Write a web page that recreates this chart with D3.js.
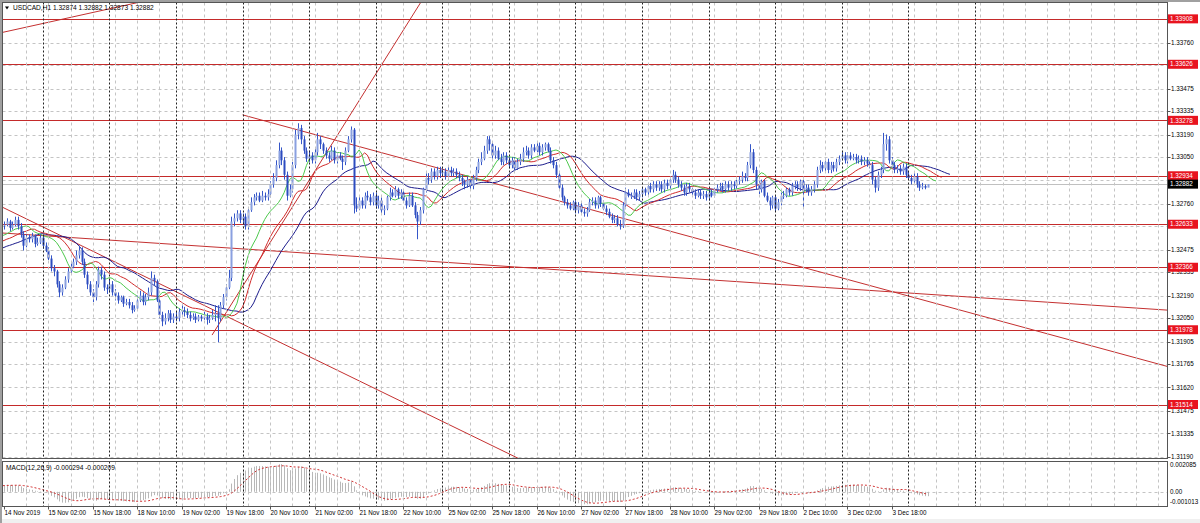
<!DOCTYPE html>
<html><head><meta charset="utf-8">
<script src="https://cdn.jsdelivr.net/npm/d3@7"></script>
<style>
html,body{margin:0;padding:0;background:#f0f0f0;}
svg{display:block;font-family:"Liberation Sans",Arial,sans-serif;}
</style></head><body><svg id="c" width="1200" height="523"></svg>
<script>
// ---- DATA (USDCAD H1) ----
// hidden history before the first visible bar (needed for indicators)
const preCloses=[1.3238,1.3240,1.3237,1.3241,1.3244,1.3242,1.3245,1.3247,1.3244,1.3246,1.3249,1.3247,1.3250,1.3248,1.3251,1.3253,1.3250,1.3252,1.3255,1.3253,1.3256,1.3254,1.3257,1.3259,1.3256,1.3258,1.3260,1.3258,1.3261,1.3263];
const preHighs=[1.3241,1.3243,1.3241,1.3243,1.3246,1.3245,1.3247,1.3249,1.3247,1.3248,1.3251,1.3250,1.3252,1.3251,1.3253,1.3255,1.3253,1.3254,1.3257,1.3256,1.3258,1.3257,1.3259,1.3261,1.3259,1.3260,1.3262,1.3261,1.3263,1.3265];
const preLows=[1.3235,1.3237,1.3235,1.3237,1.3240,1.3240,1.3241,1.3244,1.3242,1.3243,1.3245,1.3245,1.3247,1.3246,1.3248,1.3250,1.3248,1.3249,1.3251,1.3251,1.3253,1.3252,1.3254,1.3256,1.3254,1.3255,1.3257,1.3256,1.3258,1.3260];
// visible bars, first = 14 Nov 2019 10:00
const closes=[
1.3263,1.3265,1.3261,1.3263,1.3266,1.3262,1.3257,1.3250,1.3255,1.3254,
1.3256,1.3251,1.3252,1.3255,1.3250,1.3247,1.3242,1.3236,1.3234,1.3226,
1.3221,1.3224,1.3229,1.3234,1.3237,1.3240,1.3244,1.3247,1.3240,1.3232,
1.3226,1.3221,1.3218,1.3226,1.3235,1.3232,1.3224,1.3223,1.3226,1.3221,
1.3219,1.3216,1.3218,1.3214,1.3215,1.3213,1.3210,1.3211,1.3216,1.3219,
1.3215,1.3218,1.3221,1.3230,1.3228,1.3216,1.3207,1.3203,1.3205,1.3208,
1.3204,1.3206,1.3205,1.3209,1.3210,1.3209,1.3207,1.3205,1.3206,1.3204,
1.3206,1.3205,1.3206,1.3204,1.3205,1.3207,1.3208,1.3205,1.3213,1.3218,
1.3224,1.3230,1.3265,1.3267,1.3270,1.3266,1.3268,1.3262,1.3272,1.3277,
1.3280,1.3281,1.3278,1.3281,1.3280,1.3282,1.3288,1.3292,1.3300,1.3309,
1.3303,1.3294,1.3281,1.3285,1.3300,1.3319,1.3323,1.3316,1.3309,1.3304,
1.3306,1.3303,1.3308,1.3316,1.3313,1.3309,1.3306,1.3304,1.3309,1.3303,
1.3306,1.3304,1.3302,1.3309,1.3316,1.3322,1.3275,1.3273,1.3278,1.3275,
1.3281,1.3280,1.3277,1.3281,1.3275,1.3278,1.3272,1.3273,1.3280,1.3283,
1.3281,1.3285,1.3281,1.3283,1.3278,1.3275,1.3281,1.3275,1.3269,1.3265,
1.3272,1.3285,1.3292,1.3291,1.3296,1.3293,1.3297,1.3295,1.3296,1.3293,
1.3297,1.3295,1.3296,1.3294,1.3292,1.3290,1.3288,1.3291,1.3287,1.3292,
1.3297,1.3302,1.3304,1.3309,1.3316,1.3313,1.3306,1.3309,1.3304,1.3302,
1.3306,1.3303,1.3300,1.3303,1.3298,1.3302,1.3304,1.3308,1.3309,1.3306,
1.3311,1.3309,1.3312,1.3308,1.3311,1.3313,1.3309,1.3303,1.3300,1.3294,
1.3286,1.3280,1.3277,1.3275,1.3273,1.3277,1.3272,1.3275,1.3271,1.3270,
1.3272,1.3277,1.3278,1.3275,1.3280,1.3276,1.3273,1.3271,1.3268,1.3266,
1.3267,1.3263,1.3262,1.3275,1.3283,1.3281,1.3281,1.3283,1.3280,1.3282,
1.3285,1.3283,1.3287,1.3285,1.3288,1.3286,1.3288,1.3285,1.3289,1.3287,
1.3291,1.3294,1.3291,1.3288,1.3286,1.3283,1.3287,1.3285,1.3283,1.3281,
1.3283,1.3281,1.3282,1.3280,1.3283,1.3281,1.3285,1.3286,1.3287,1.3285,
1.3288,1.3286,1.3288,1.3287,1.3290,1.3291,1.3293,1.3292,1.3300,1.3308,
1.3297,1.3288,1.3285,1.3290,1.3281,1.3278,1.3275,1.3280,1.3273,1.3277,
1.3281,1.3281,1.3285,1.3283,1.3287,1.3288,1.3286,1.3290,1.3285,1.3286,
1.3283,1.3285,1.3288,1.3297,1.3300,1.3298,1.3302,1.3297,1.3300,1.3298,
1.3302,1.3304,1.3306,1.3303,1.3306,1.3304,1.3305,1.3303,1.3304,1.3302,
1.3303,1.3301,1.3300,1.3291,1.3286,1.3294,1.3297,1.3313,1.3316,1.3303,
1.3300,1.3297,1.3298,1.3296,1.3299,1.3294,1.3292,1.3290,1.3293,1.3288,
1.3286,1.3287,1.3286,1.32882];
const highs=[
1.3265,1.3267,1.3266,1.3265,1.3268,1.3268,1.3264,1.3259,1.3257,1.3257,
1.3258,1.3257,1.3255,1.3257,1.3256,1.3252,1.3249,1.3244,1.3238,1.3235,
1.3228,1.3226,1.3231,1.3236,1.3239,1.3242,1.3247,1.3250,1.3249,1.3242,
1.3234,1.3228,1.3223,1.3228,1.3237,1.3237,1.3234,1.3226,1.3229,1.3228,
1.3223,1.3221,1.3219,1.3219,1.3217,1.3217,1.3215,1.3213,1.3219,1.3222,
1.3221,1.3220,1.3224,1.3234,1.3232,1.3229,1.3218,1.3209,1.3208,1.3210,
1.3210,1.3208,1.3209,1.3211,1.3213,1.3212,1.3211,1.3209,1.3208,1.3208,
1.3207,1.3207,1.3209,1.3208,1.3207,1.3210,1.3213,1.3213,1.3215,1.3220,
1.3226,1.3235,1.3268,1.3270,1.3272,1.3272,1.3270,1.3270,1.3274,1.3280,
1.3282,1.3283,1.3283,1.3284,1.3283,1.3285,1.3290,1.3295,1.3303,1.3314,
1.3311,1.3305,1.3296,1.3288,1.3302,1.3322,1.3326,1.3325,1.3318,1.3311,
1.3309,1.3308,1.3311,1.3320,1.3318,1.3314,1.3311,1.3308,1.3312,1.3311,
1.3308,1.3308,1.3306,1.3311,1.3318,1.3324,1.3323,1.3280,1.3281,1.3280,
1.3283,1.3284,1.3282,1.3283,1.3283,1.3281,1.3280,1.3275,1.3281,1.3286,
1.3285,1.3287,1.3286,1.3285,1.3285,1.3280,1.3283,1.3283,1.3277,1.3271,
1.3274,1.3286,1.3295,1.3295,1.3298,1.3298,1.3299,1.3299,1.3298,1.3298,
1.3299,1.3299,1.3298,1.3298,1.3296,1.3294,1.3291,1.3293,1.3293,1.3294,
1.3299,1.3304,1.3308,1.3312,1.3318,1.3318,1.3314,1.3312,1.3311,1.3307,
1.3308,1.3308,1.3305,1.3305,1.3305,1.3304,1.3307,1.3311,1.3312,1.3311,
1.3313,1.3313,1.3314,1.3314,1.3313,1.3314,1.3314,1.3311,1.3305,1.3302,
1.3296,1.3288,1.3281,1.3279,1.3277,1.3278,1.3278,1.3277,1.3277,1.3273,
1.3274,1.3279,1.3280,1.3280,1.3281,1.3281,1.3278,1.3275,1.3273,1.3270,
1.3269,1.3269,1.3266,1.3277,1.3286,1.3285,1.3283,1.3285,1.3285,1.3284,
1.3286,1.3286,1.3289,1.3289,1.3290,1.3290,1.3290,1.3290,1.3291,1.3291,
1.3293,1.3297,1.3296,1.3293,1.3290,1.3288,1.3289,1.3289,1.3286,1.3285,
1.3285,1.3285,1.3284,1.3284,1.3285,1.3285,1.3286,1.3288,1.3289,1.3289,
1.3290,1.3290,1.3290,1.3290,1.3291,1.3293,1.3296,1.3295,1.3302,1.3313,
1.3310,1.3299,1.3290,1.3291,1.3291,1.3283,1.3280,1.3281,1.3281,1.3279,
1.3283,1.3284,1.3286,1.3286,1.3289,1.3290,1.3290,1.3291,1.3291,1.3288,
1.3288,1.3287,1.3290,1.3299,1.3303,1.3302,1.3304,1.3304,1.3302,1.3302,
1.3304,1.3306,1.3308,1.3308,1.3308,1.3308,1.3307,1.3307,1.3306,1.3306,
1.3305,1.3305,1.3303,1.3302,1.3293,1.3296,1.3299,1.3320,1.3319,1.3318,
1.3305,1.3302,1.3300,1.3300,1.3301,1.3301,1.3296,1.3294,1.3295,1.3295,
1.3290,1.3289,1.3288,1.32882];
const lows=[
1.3260,1.3262,1.3259,1.3260,1.3262,1.3260,1.3255,1.3247,1.3249,1.3252,
1.3252,1.3249,1.3250,1.3251,1.3248,1.3246,1.3241,1.3234,1.3231,1.3224,
1.3218,1.3219,1.3223,1.3227,1.3232,1.3236,1.3238,1.3242,1.3238,1.3230,
1.3223,1.3219,1.3215,1.3216,1.3224,1.3229,1.3222,1.3220,1.3221,1.3219,
1.3216,1.3214,1.3215,1.3212,1.3213,1.3211,1.3208,1.3209,1.3210,1.3215,
1.3213,1.3213,1.3216,1.3219,1.3225,1.3215,1.3205,1.3200,1.3201,1.3203,
1.3202,1.3202,1.3203,1.3203,1.3207,1.3206,1.3205,1.3203,1.3204,1.3202,
1.3203,1.3203,1.3204,1.3201,1.3202,1.3204,1.3203,1.3190,1.3203,1.3211,
1.3216,1.3223,1.3228,1.3262,1.3265,1.3264,1.3263,1.3260,1.3260,1.3271,
1.3275,1.3278,1.3277,1.3277,1.3278,1.3278,1.3280,1.3286,1.3290,1.3298,
1.3300,1.3291,1.3278,1.3280,1.3283,1.3298,1.3316,1.3313,1.3307,1.3302,
1.3302,1.3301,1.3301,1.3306,1.3310,1.3307,1.3304,1.3302,1.3303,1.3301,
1.3301,1.3303,1.3297,1.3300,1.3308,1.3314,1.3270,1.3271,1.3272,1.3273,
1.3273,1.3278,1.3275,1.3275,1.3273,1.3273,1.3270,1.3269,1.3272,1.3278,
1.3280,1.3280,1.3279,1.3279,1.3277,1.3273,1.3274,1.3274,1.3267,1.3254,
1.3263,1.3270,1.3283,1.3288,1.3289,1.3291,1.3291,1.3292,1.3293,1.3291,
1.3291,1.3293,1.3293,1.3292,1.3290,1.3287,1.3285,1.3286,1.3285,1.3285,
1.3290,1.3295,1.3300,1.3303,1.3307,1.3309,1.3304,1.3304,1.3303,1.3300,
1.3300,1.3301,1.3298,1.3298,1.3296,1.3297,1.3300,1.3302,1.3306,1.3304,
1.3304,1.3308,1.3308,1.3306,1.3306,1.3309,1.3308,1.3301,1.3298,1.3292,
1.3284,1.3278,1.3275,1.3273,1.3272,1.3272,1.3270,1.3270,1.3269,1.3268,
1.3268,1.3271,1.3275,1.3273,1.3273,1.3274,1.3272,1.3269,1.3267,1.3264,
1.3264,1.3262,1.3260,1.3261,1.3273,1.3280,1.3279,1.3279,1.3278,1.3278,
1.3280,1.3281,1.3281,1.3283,1.3283,1.3284,1.3284,1.3283,1.3283,1.3285,
1.3285,1.3289,1.3289,1.3286,1.3284,1.3281,1.3281,1.3283,1.3281,1.3279,
1.3280,1.3279,1.3279,1.3278,1.3278,1.3280,1.3280,1.3283,1.3284,1.3283,
1.3283,1.3284,1.3284,1.3285,1.3285,1.3288,1.3289,1.3290,1.3290,1.3298,
1.3295,1.3285,1.3282,1.3283,1.3280,1.3277,1.3272,1.3273,1.3271,1.3272,
1.3275,1.3279,1.3280,1.3281,1.3281,1.3285,1.3284,1.3284,1.3274,1.3283,
1.3281,1.3281,1.3283,1.3286,1.3295,1.3296,1.3296,1.3295,1.3295,1.3296,
1.3296,1.3300,1.3303,1.3301,1.3301,1.3303,1.3303,1.3301,1.3301,1.3300,
1.3300,1.3299,1.3298,1.3288,1.3283,1.3284,1.3292,1.3295,1.3309,1.3301,
1.3298,1.3295,1.3295,1.3294,1.3294,1.3292,1.3291,1.3288,1.3288,1.3286,
1.3284,1.3285,1.3285,1.32873];
const timeLabels=["14 Nov 2019","15 Nov 02:00","15 Nov 18:00","18 Nov 10:00","19 Nov 02:00","19 Nov 18:00","20 Nov 10:00","21 Nov 02:00","21 Nov 18:00","22 Nov 10:00","25 Nov 02:00","25 Nov 18:00","26 Nov 10:00","27 Nov 02:00","27 Nov 18:00","28 Nov 10:00","29 Nov 02:00","29 Nov 18:00","2 Dec 10:00","3 Dec 02:00","3 Dec 18:00"];
const priceTicks=[1.33905,1.33760,1.33620,1.33475,1.33335,1.33190,1.33050,1.32905,1.32760,1.32620,1.32475,1.32335,1.32190,1.32050,1.31905,1.31765,1.31620,1.31475,1.31335,1.31190];
const levels=[1.33908,1.33626,1.33278,1.32934,1.32633,1.32366,1.31978,1.31514];
const lastPrice=1.32882;
const macdTicks=[0.002085,0,-0.001013];
const macdTickLabels=["0.002085","0.00","-0.001013"];
// trend lines: [barIndex1, price1, barIndex2, price2, extendLeft, extendRight]
const trendLines=[
 [0,1.33826,40,1.33978,true,true],
 [0,1.32734,180,1.31225,true,true],
 [0,1.32578,400,1.32122,true,true],
 [86,1.33312,400,1.31841,false,true],
 [75,1.31945,128,1.33400,false,true]
];
const headerText="USDCAD,H1  1.32874 1.32882 1.32873 1.32882";
const macdText="MACD(12,26,9) -0.000294 -0.000209";

// ---- LAYOUT ----
const W=1200,H=523;
const PL=2.5,PR=1167.5,PT=2.5,PB=458.5,MT=461.5,MB=506.5;
const FS=6.3;
const svg=d3.select('#c');
svg.append('rect').attr('width',W).attr('height',H).attr('fill','#f0f0f0');
svg.append('rect').attr('x',2).attr('y',2).attr('width',W-2).attr('height',517).attr('fill','#ffffff');

const PRE=preCloses.length;
const C=preCloses.concat(closes), Hh=preHighs.concat(highs), Ll=preLows.concat(lows);
const N=C.length;
const x=d3.scaleLinear().domain([0,100]).range([4,4+100*2.774]);
const xi=k=>x(k-PRE);
const y=d3.scaleLinear().domain([1.31190,1.33760]).range([456.7,42.7]);
const ym=d3.scaleLinear().domain([-0.001013,0.002085]).range([MB,MT]);

const defs=svg.append('defs');
defs.append('clipPath').attr('id','cm').append('rect').attr('x',PL).attr('y',PT).attr('width',PR-PL).attr('height',PB-PT);
defs.append('clipPath').attr('id','cd').append('rect').attr('x',PL).attr('y',MT).attr('width',PR-PL).attr('height',MB-MT);

// ---- GRID ----
const g=svg.append('g').attr('clip-path','url(#cm)');
const gm=svg.append('g').attr('clip-path','url(#cd)');
priceTicks.forEach(p=>{
  g.append('line').attr('x1',PL).attr('x2',PR).attr('y1',Math.round(y(p))+0.5).attr('y2',Math.round(y(p))+0.5)
   .attr('stroke','#c4c4c4').attr('stroke-dasharray','3,3');
});
gm.append('line').attr('x1',PL).attr('x2',PR).attr('y1',Math.round(ym(0))+0.5).attr('y2',Math.round(ym(0))+0.5)
   .attr('stroke','#c4c4c4').attr('stroke-dasharray','3,3');
// vertical grid every 8 bars (labels every 16)
const totalSlots=420;
for(let i=8;i<totalSlots;i+=8){
  const xx=Math.round(x(i))+0.5;
  if(xx>PR)break;
  [[PT,PB],[MT,MB]].forEach(([a,b])=>svg.append('line').attr('x1',xx).attr('x2',xx).attr('y1',a).attr('y2',b)
     .attr('stroke','#c4c4c4').attr('stroke-dasharray','3,3'));
}
// day separators: hourly bars, 14 Nov 10:00 first, weekends skipped
const t0=new Date(Date.UTC(2019,10,14,10));
const times=[];let t=new Date(t0);
for(let i=0;i<totalSlots;i++){times.push(new Date(t));do{t=new Date(t.getTime()+3600e3);}while(t.getUTCDay()===0||t.getUTCDay()===6);}
times.forEach((d,i)=>{
  if(d.getUTCHours()===0 && x(i)<1000){
    const xx=Math.round(x(i))+0.5;
    [[PT,PB],[MT,MB]].forEach(([a,b])=>svg.append('line').attr('x1',xx).attr('x2',xx).attr('y1',a).attr('y2',b)
      .attr('stroke','#222').attr('stroke-dasharray','2,2'));
  }
});

// ---- LEVELS & LINES ----
g.append('line').attr('x1',PL).attr('x2',PR).attr('y1',Math.round(y(lastPrice))+0.5).attr('y2',Math.round(y(lastPrice))+0.5).attr('stroke','#c0c0c0');
levels.forEach(p=>{
  g.append('line').attr('x1',PL).attr('x2',PR).attr('y1',Math.round(y(p))+0.5).attr('y2',Math.round(y(p))+0.5)
   .attr('stroke','#c42a2a').attr('stroke-width',1.2);
});
trendLines.forEach(([i1,p1,i2,p2,el,er])=>{
  const x1=x(i1),y1=y(p1),x2=x(i2),y2=y(p2);
  const s=(y2-y1)/(x2-x1);
  const xa=el?PL-10:x1, xb=er?PR+10:x2;
  g.append('line').attr('x1',xa).attr('y1',y1+s*(xa-x1)).attr('x2',xb).attr('y2',y1+s*(xb-x1))
   .attr('stroke','#c43030').attr('stroke-width',1);
});

// ---- INDICATORS (Alligator on median price) ----
const med=C.map((c,k)=>(Hh[k]+Ll[k])/2);
function smma(arr,n){const out=[];let v=null;for(let k=0;k<arr.length;k++){if(k<n-1){out.push(null);continue;}if(v===null){v=d3.mean(arr.slice(k-n+1,k+1));}else{v=(v*(n-1)+arr[k])/n;}out.push(v);}return out;}
function ema(arr,n){const a=2/(n+1);const out=[];let v=arr[0];arr.forEach((p,k)=>{v=k?v+a*(p-v):p;out.push(v);});return out;}
const gator=[{n:13,s:8,c:'#1c1c8c'},{n:8,s:5,c:'#d02a2a'},{n:5,s:3,c:'#4cc84c'}];
gator.forEach(a=>{
  const v=smma(med,a.n);
  const pts=v.map((val,k)=>val===null?null:[xi(k+a.s),y(val)]).filter(p=>p);
  g.append('path').attr('d',d3.line()(pts)).attr('fill','none').attr('stroke',a.c).attr('stroke-width',1);
});

// ---- CANDLES ----
const cg=g.append('g');
for(let k=0;k<N;k++){
  const o=k?C[k-1]:C[k], c=C[k];
  const xx=Math.round(xi(k))+0.5;
  const up=c>=o;
  cg.append('line').attr('x1',xx).attr('x2',xx).attr('y1',y(Hh[k])).attr('y2',y(Ll[k])).attr('stroke','#3556c8').attr('stroke-width',1);
  const top=y(Math.max(o,c)), bot=y(Math.min(o,c));
  cg.append('rect').attr('x',xx-1).attr('y',top).attr('width',2).attr('height',Math.max(1,bot-top))
    .attr('fill',up?'#8aa0e0':'#2d4cc0');
}

// ---- MACD ----
const e12=ema(C,12),e26=ema(C,26);
const macd=C.map((c,k)=>e12[k]-e26[k]);
const sig=macd.map((m,k)=>k<8?null:d3.mean(macd.slice(k-8,k+1)));
for(let k=0;k<N;k++){
  const xx=Math.round(xi(k))+0.5;
  gm.append('line').attr('x1',xx).attr('x2',xx).attr('y1',ym(0)).attr('y2',ym(macd[k])).attr('stroke','#b8b8b8');
}
gm.append('path').attr('d',d3.line()(sig.map((s,k)=>s===null?null:[xi(k),ym(s)]).filter(p=>p)))
  .attr('fill','none').attr('stroke','#d03030').attr('stroke-dasharray','2,2');

// ---- FRAMES ----
svg.append('rect').attr('x',PL).attr('y',PT).attr('width',PR-PL).attr('height',PB-PT).attr('fill','none').attr('stroke','#555');
svg.append('rect').attr('x',PL).attr('y',MT).attr('width',PR-PL).attr('height',MB-MT).attr('fill','none').attr('stroke','#555');
svg.append('line').attr('x1',0).attr('x2',W).attr('y1',1).attr('y2',1).attr('stroke','#a0a0a0').attr('stroke-width',2);
svg.append('line').attr('x1',1).attr('x2',1).attr('y1',0).attr('y2',H).attr('stroke','#a0a0a0').attr('stroke-width',2);

// ---- PRICE AXIS ----
const ax=svg.append('g').attr('font-size',FS).attr('fill','#000');
const boxYs=levels.concat([lastPrice]).map(p=>y(p));
priceTicks.forEach(p=>{
  const yy=y(p);
  svg.append('line').attr('x1',PR).attr('x2',PR+3).attr('y1',Math.round(yy)+0.5).attr('y2',Math.round(yy)+0.5).attr('stroke','#555');
  if(boxYs.some(b=>Math.abs(b-yy)<4.9))return;
  ax.append('text').attr('x',1171).attr('y',yy+2.2).text(p.toFixed(5));
});
levels.forEach(p=>{
  const yy=y(p);
  svg.append('rect').attr('x',1168).attr('y',yy-4.5).attr('width',30).attr('height',9).attr('fill','#e8131f');
  svg.append('text').attr('x',1170).attr('y',yy+2.2).attr('font-size',FS).attr('fill','#fff').text(p.toFixed(5));
});
{
  const yy=y(lastPrice);
  svg.append('rect').attr('x',1168).attr('y',yy-4.5).attr('width',30).attr('height',9).attr('fill','#000');
  svg.append('text').attr('x',1170).attr('y',yy+2.2).attr('font-size',FS).attr('fill','#fff').text(lastPrice.toFixed(5));
}
macdTicks.forEach((v,j)=>{
  const yy=j===0?465:(j===2?501.7:ym(v));
  svg.append('text').attr('x',1170).attr('y',yy+2.2).attr('font-size',FS).attr('fill','#000').text(macdTickLabels[j]);
});

// ---- TIME AXIS ----
timeLabels.forEach((s,j)=>{
  const xx=Math.round(x(j*16))+0.5;
  svg.append('line').attr('x1',xx).attr('x2',xx).attr('y1',MB).attr('y2',MB+3).attr('stroke','#555');
  svg.append('text').attr('x',xx).attr('y',515).attr('font-size',FS).attr('fill','#000').text(s);
});

// ---- TITLES ----
svg.append('path').attr('d','M5,6.5 L9,6.5 L7,9.5 Z').attr('fill','#000');
svg.append('text').attr('x',13).attr('y',10.3).attr('font-size',6.6).attr('fill','#000').text(headerText);
svg.append('text').attr('x',6).attr('y',470).attr('font-size',6.6).attr('fill','#000').text(macdText);
</script></body></html>
